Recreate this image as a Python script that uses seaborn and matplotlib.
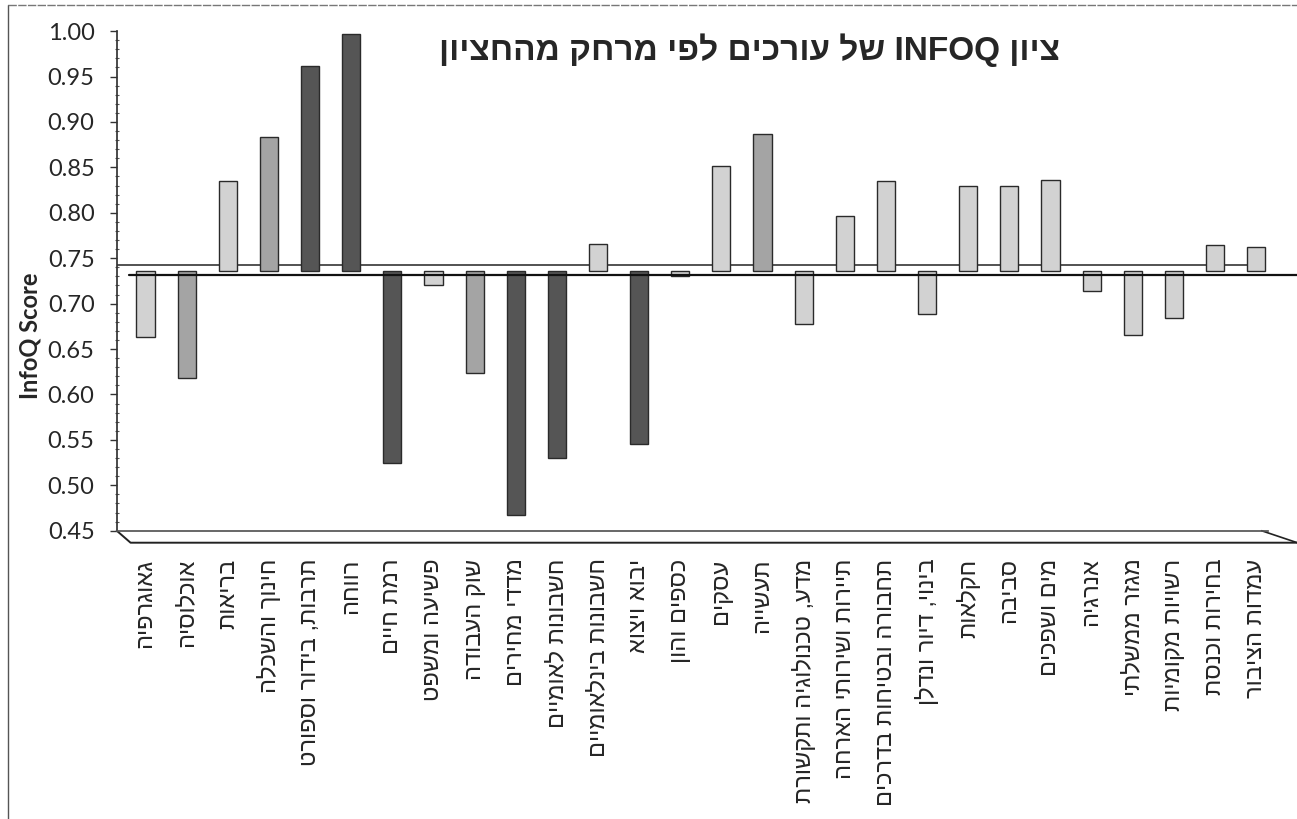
import numpy as np
import pandas as pd
import seaborn as sns
import matplotlib.pyplot as plt
from matplotlib.ticker import MultipleLocator, FormatStrFormatter
from matplotlib.lines import Line2D

# data
topics = ['גאוגרפיה', 'אוכלוסיה', 'בריאות', 'חינוך והשכלה', 'תרבות, בידור וספורט',
          'רווחה', 'רמת חיים', 'פשיעה ומשפט', 'שוק העבודה', 'מדדי מחירים',
          'חשבונות לאומיים', 'חשבונות בינלאומיים', 'יבוא ויצוא', 'כספים והון',
          'עסקים', 'תעשייה', 'מדע, טכנולוגיה ותקשורת', 'תיירות ושירותי הארחה',
          'תחבורה ובטיחות בדרכים', 'בינוי, דיור ונדלן', 'חקלאות', 'סביבה',
          'מים ושפכים', 'אנרגיה', 'מגזר ממשלתי', 'רשויות מקומיות',
          'בחירות וכנסת', 'עמדות הציבור']
scores = [0.663, 0.618, 0.835, 0.883, 0.962, 0.997, 0.525, 0.721, 0.624, 0.467,
          0.530, 0.766, 0.545, 0.730, 0.851, 0.887, 0.678, 0.797, 0.835, 0.689,
          0.829, 0.829, 0.836, 0.714, 0.666, 0.684, 0.764, 0.762]
shade = ['light', 'mid', 'light', 'mid', 'dark', 'dark', 'dark', 'light', 'mid', 'dark',
         'dark', 'light', 'dark', 'light', 'light', 'mid', 'light', 'light', 'light', 'light',
         'light', 'light', 'light', 'light', 'light', 'light', 'light', 'light']
median_score = 0.736

title = 'ציון INFOQ של עורכים לפי מרחק מהחציון'


def rtl(s):
    # no bidi in matplotlib: flip hebrew words and the word order, keep latin words
    words = s.split(' ')
    res = []
    for w in words:
        if any('\u0590' <= c <= '\u05ff' for c in w):
            res.append(w[::-1])
        else:
            res.append(w)
    return ' '.join(res[::-1])


df = pd.DataFrame({'topic': [rtl(t) for t in topics], 'score': scores, 'shade': shade})
df['dev'] = df['score'] - median_score

sns.set_theme(style='white')
heb = ['Liberation Sans', 'DejaVu Sans']
plt.rcParams['font.family'] = heb

fig = plt.figure(figsize=(12.97, 8.19), dpi=100)
ax = fig.add_axes([0.090, 0.352, 0.888, 0.610])

pal = {'light': '#d2d2d2', 'mid': '#a4a4a4', 'dark': '#555555'}
sns.barplot(data=df, x='topic', y='dev', hue='shade', palette=pal, bottom=median_score,
            width=0.44, edgecolor='#2a2a2a', linewidth=1, errorbar=None, legend=False,
            ax=ax, zorder=2)

ax.set_xlim(-0.7, 27.3)
ax.set_ylim(0.45, 1.0)
ax.set_yticks(np.arange(0.45, 1.001, 0.05))
ax.yaxis.set_major_formatter(FormatStrFormatter('%.2f'))
ax.yaxis.set_minor_locator(MultipleLocator(0.01))
ax.tick_params(axis='y', which='major', length=5, width=1, direction='out', pad=11,
               labelsize=17, left=True, color='#333333')
ax.tick_params(axis='y', which='minor', length=2.5, width=0.8, direction='inout', left=True,
               color='#555555')
ax.tick_params(axis='x', length=0, pad=20)
for lab in ax.get_yticklabels():
    lab.set_family(['Lato', 'DejaVu Sans'])
for lab in ax.get_xticklabels():
    lab.set_rotation(90)
    lab.set_fontsize(17)
    lab.set_family(heb)
ax.set_xlabel('')
ax.set_ylabel('')

for s in ['top', 'right']:
    ax.spines[s].set_visible(False)
ax.spines['left'].set_color('#333333')
ax.spines['bottom'].set_color('#555555')

# 3d-ish floor under the bars
ax.plot([0, 0.012, 1.025], [0, -0.024, -0.024], transform=ax.transAxes, color='#222222',
        lw=1.4, clip_on=False)
ax.plot([0.994, 1.025], [0, -0.024], transform=ax.transAxes, color='#222222', lw=1.2,
        clip_on=False)

# median lines (back and front of the 3d floor)
ax.axhline(median_score + 0.007, xmin=0, xmax=0.994, color='#444444', lw=1.3, zorder=1)
ax.axhline(median_score - 0.005, xmin=0.011, xmax=1.025, color='#111111', lw=1.6, zorder=3,
           clip_on=False)

fig.text(0.578, 0.939, rtl(title), ha='center', va='center', fontsize=24,
         fontweight='bold', family=heb)
fig.text(0.023, 0.590, 'InfoQ Score', rotation=90, ha='center', va='center', fontsize=17,
         fontweight='bold', family=['Lato', 'DejaVu Sans'])

# frame around the chart area
fig.add_artist(Line2D([0.006, 0.006], [0, 0.994], transform=fig.transFigure,
                      color='#555555', lw=1))
fig.add_artist(Line2D([0.006, 1.0], [0.994, 0.994], transform=fig.transFigure,
                      color='#777777', lw=1, ls=(0, (6, 1))))

fig.savefig('out.png', dpi=100)
